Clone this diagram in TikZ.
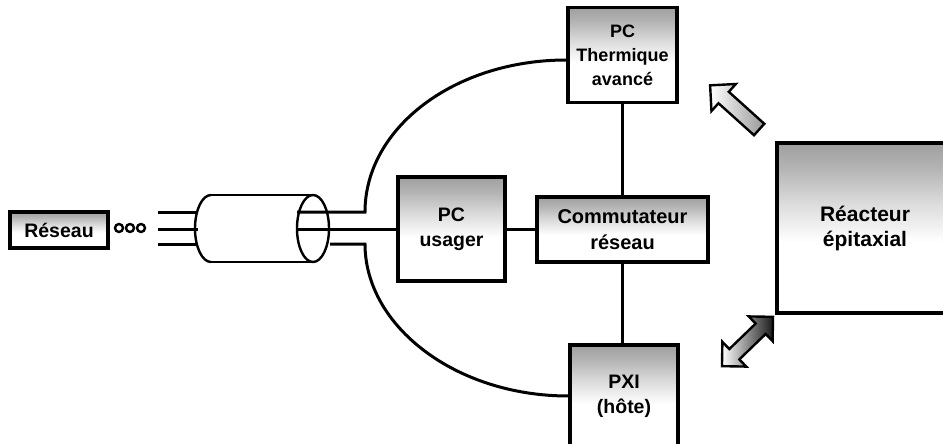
\documentclass[tikz,border=0pt]{standalone}
\usepackage{fontspec}
\setmainfont{Liberation Sans}
\usetikzlibrary{shapes.arrows}
\pgfdeclareverticalshading{boxgrad}{100bp}{color(0bp)=(white); color(46bp)=(white); color(58bp)=(gray!30); color(68bp)=(gray!60); color(75bp)=(gray!75); color(100bp)=(gray!75)}

\begin{document}
\begin{tikzpicture}[x=1pt,y=-1pt]
\tikzstyle{box}=[draw,line width=3.2pt,shade,shading=boxgrad,align=center,inner sep=0pt,font=\fontsize{19.5}{25}\selectfont\bfseries]
\tikzstyle{wire}=[line width=3pt]
\tikzstyle{fatarrow}=[draw,line width=2.4pt,single arrow,single arrow head extend=10.5pt,inner sep=6.5pt,minimum height=66pt]
\tikzstyle{fatdarrow}=[draw,line width=2.4pt,double arrow,double arrow head extend=10pt,inner sep=6pt,minimum height=71pt]
\path[use as bounding box,clip] (0,0) rectangle (943,444);
% ========= boxes
\node (reseau) at (59,230) [box, minimum width=98pt, minimum height=36pt] {Réseau};
\node (pcth) at (622.5,55) [box, minimum width=109pt, minimum height=95pt, font=\fontsize{18}{24}\selectfont\bfseries] {PC\\Thermique\\avancé};
\node (usager) at (451.5,229) [box, minimum width=107pt, minimum height=104pt] {PC\\usager};
\node (comm) at (622.5,229.5) [box, minimum width=171pt, minimum height=65pt, font=\fontsize{20}{26}\selectfont\bfseries] {Commutateur\\réseau};
\node (pxi) at (624,396) [box, minimum width=108pt, minimum height=102pt] {PXI\\(hôte)};
\node (reac) at (865,228) [box, minimum width=176pt, minimum height=170pt, font=\fontsize{21}{25}\selectfont\bfseries] {Réacteur\\épitaxial};
% ========= dots and cable
\foreach \x in {119,130,141} \draw[line width=2.4pt] (\x,228) circle (4pt);
\foreach \y in {212,229,244} \draw[wire] (158,\y) -- (198,\y);
\draw[line width=2.4pt] (211,195) arc[start angle=90,end angle=270,x radius=16pt,y radius=33.5pt];
\draw[line width=2.4pt] (211,195) -- (313,195) (211,262) -- (313,262);
\draw[line width=2.4pt] (313,228.5) ellipse[x radius=16pt,y radius=33.5pt];
\coordinate (wtop) at (297,212);
\coordinate (wmid) at (297,229);
\coordinate (wbot) at (330,244);
% ====== connections
\draw[wire] (wtop) -- (365,212) .. controls +(0,-84) and +(-112,0) .. ([yshift=-5pt]pcth.west);
\draw[wire] (wmid) -- (usager.west |- wmid);
\draw[wire] (wbot) -- (365,244) .. controls +(0,82) and +(-113,0) .. (pxi.west);
\draw[wire] (usager.east |- comm.west) -- (comm.west);
\draw[wire] (pcth) -- (comm);
\draw[wire] (comm.south) -- (comm.south |- pxi.north);
%% ===== arrows
\node (up) at (737.5,110) [fatarrow, rotate=138, left color=white, middle color=white, right color=gray!80] {};
\node (down) at (747.5,341.5) [fatdarrow, rotate=44, left color=white, right color=black!90] {};
\end{tikzpicture}
\end{document}
